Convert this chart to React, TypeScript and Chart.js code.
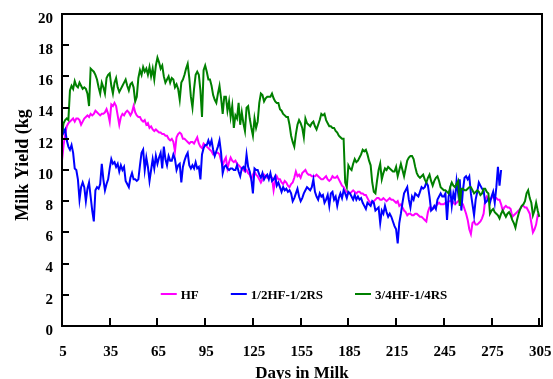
import React, { useEffect, useRef } from "react";
import { Chart, registerables } from "chart.js";

Chart.register(...registerables);

// Day-by-day average milk yield (kg) from day 5 of lactation onward.
const FIRST_DAY = 5;
const X_TICKS = [5, 35, 65, 95, 125, 155, 185, 215, 245, 275, 305];
const Y_TICKS = [0, 2, 4, 6, 8, 10, 12, 14, 16, 18, 20];
const SERIES_LABELS = ["HF", "1/2HF-1/2RS", "3/4HF-1/4RS"];
const SERIES_COLORS = ["#FF00FF", "#0000FF", "#008000"];
const X_TITLE = "Days in Milk";
const Y_TITLE = "Milk Yield (kg";

const hfYield = [
  10.6, 11.6, 12.3, 12.8, 13.0, 13.1, 13.2, 13.3, 13.1, 13.3,
  13.3, 13.2, 12.9, 13.1, 13.3, 13.4, 13.5, 13.4, 13.6, 13.5,
  13.6, 13.8, 13.7, 13.6, 13.5, 13.6, 13.6, 13.7, 13.9, 13.6,
  13.1, 14.2, 14.1, 14.3, 14.1, 13.5, 12.9, 13.4, 13.6, 13.5,
  13.7, 13.8, 13.7, 13.5, 13.7, 14.1, 13.7, 13.5, 13.4, 13.4,
  13.2, 13.1, 13.2, 12.9, 13.0, 12.7, 12.8, 12.6, 12.5, 12.6,
  12.5, 12.4, 12.4, 12.3, 12.3, 12.2, 12.2, 12.0, 11.9, 12.0,
  11.8, 11.2, 12.1, 12.3, 12.4, 12.3, 12.0, 12.0, 11.9, 11.8,
  11.7, 11.8, 11.8, 11.7, 11.9, 12.1, 11.7, 11.5, 11.4, 11.7,
  11.6, 11.5, 11.4, 11.3, 11.2, 11.0, 11.0, 11.1, 11.1, 11.0,
  10.6, 10.3, 10.6, 10.8, 10.1, 10.5, 10.8, 10.6, 10.5, 10.6,
  10.4, 10.3, 10.2, 10.1, 10.0, 9.9, 10.0, 9.8, 9.7, 9.4,
  9.7, 9.9, 9.7, 9.6, 9.4, 9.2, 9.4, 9.7, 9.6, 9.5,
  9.5, 9.6, 9.5, 8.7, 9.3, 9.6, 9.4, 9.4, 9.2, 9.1,
  9.3, 9.2, 9.0, 8.9, 9.1, 9.2, 9.5, 9.9, 9.6, 9.7,
  9.5, 9.8, 9.9, 10.0, 9.8, 9.7, 9.7, 9.6, 9.6, 9.6,
  9.7, 9.6, 9.5, 9.4, 9.4, 9.5, 9.6, 9.4, 9.3, 9.4,
  9.6, 9.5, 9.5, 9.6, 9.4, 9.2, 9.0, 8.9, 8.7, 8.6,
  8.5, 8.5, 8.6, 8.7, 8.6, 8.5, 8.6, 8.6, 8.5, 8.5,
  8.4, 8.4, 8.2, 8.0, 7.9, 7.9, 8.0, 8.1, 8.2, 8.2,
  8.1, 8.1, 8.2, 8.1, 8.0, 8.1, 8.2, 8.1, 8.1, 8.0,
  7.9, 8.0, 7.7, 7.8, 7.6, 7.4, 7.3, 7.1, 7.2, 7.2,
  7.1, 7.1, 7.2, 7.2, 7.1, 7.0, 7.0, 6.9, 6.8, 6.7,
  7.3, 7.6, 7.6, 7.5, 7.6, 7.7, 7.8, 7.9, 7.8, 7.8,
  7.8, 7.9, 7.9, 8.0, 8.0, 8.1, 7.9, 7.8, 7.9, 8.0,
  8.1, 7.9, 7.8, 7.5, 7.2, 6.8, 6.2, 5.9, 6.6, 6.7,
  6.5, 6.5, 6.6, 6.7, 6.9, 7.2, 8.1, 8.3, 8.2, 8.1,
  8.2, 8.3, 8.2, 8.2, 8.1, 8.1, 7.8, 7.4, 7.6, 7.7,
  7.6, 7.6, 7.5, 7.0, 7.1, 7.2, 7.3, 7.4, 7.5, 7.7,
  7.7, 7.6, 7.6, 7.4, 7.2, 6.6, 6.0, 6.2, 6.5, 7.1,
  7.0,
];

const halfRsYield = [
  13.2, 12.4, 12.6, 11.9, 11.5, 11.3, 11.6, 11.1, 10.1, 10.0,
  9.4, 8.1, 8.9, 9.2, 8.9, 8.0, 8.8, 9.2, 8.3, 7.4,
  6.7, 8.7, 8.9, 8.8, 9.1, 10.4, 9.4, 8.7, 9.1, 9.4,
  10.1, 10.7, 10.4, 10.5, 10.2, 10.4, 9.9, 10.3, 10.0, 10.2,
  9.3, 9.1, 8.9, 9.5, 9.8, 9.4, 9.4, 9.3, 9.4, 10.3,
  11.1, 11.3, 10.0, 10.8, 10.2, 9.3, 10.0, 10.7, 10.1, 10.9,
  10.4, 10.8, 11.1, 10.1, 11.5, 10.7, 10.3, 10.9, 10.6, 10.6,
  11.0, 10.7, 10.0, 10.3, 10.4, 9.2, 10.2, 10.6, 10.9, 11.1,
  10.3, 10.1, 10.3, 10.1, 10.5, 10.1, 10.2, 9.4, 11.0, 11.4,
  11.6, 11.6, 11.9, 11.6, 11.9, 11.3, 10.9, 11.2, 11.5, 11.9,
  11.1, 9.8, 10.2, 10.3, 10.1, 10.0, 10.1, 10.1, 10.0, 10.0,
  10.3, 9.9, 9.6, 10.1, 10.2, 10.0, 11.0, 10.2, 9.9, 9.4,
  8.5, 10.1, 10.0, 10.0, 9.7, 9.5, 9.8, 9.4, 9.6, 9.7,
  9.4, 9.8, 9.3, 9.4, 9.6, 9.0, 9.2, 8.9, 8.6, 8.9,
  8.7, 8.8, 8.6, 8.7, 8.5, 8.0, 8.2, 8.5, 8.8, 8.3,
  8.0, 8.2, 8.5, 8.7, 8.9, 8.8, 8.7, 8.9, 9.4, 8.6,
  8.3, 8.1, 8.5, 8.3, 8.4, 7.9, 8.1, 8.4, 7.7, 8.5,
  8.6, 8.1, 8.3, 7.7, 8.2, 8.5, 8.2, 8.7, 8.5, 8.2,
  8.6, 8.5, 8.3, 8.1, 8.4, 8.1, 8.3, 8.1, 8.2, 7.9,
  7.7, 7.5, 7.9, 7.8, 7.7, 8.0, 7.9, 7.4, 7.5, 7.6,
  6.6, 7.4, 7.2, 7.7, 7.3, 7.0, 7.2, 7.0, 6.7, 6.4,
  6.2, 5.3, 6.6, 7.2, 7.9, 8.5, 8.7, 8.9, 8.1, 7.6,
  8.3, 8.1, 8.5, 8.4, 8.3, 8.6, 8.9, 8.8, 8.9, 9.2,
  9.0, 8.3, 7.4, 7.5, 7.7, 7.5, 8.1, 8.3, 8.5, 8.3,
  8.3, 8.5, 6.8, 8.3, 8.8, 7.7, 8.5, 8.1, 9.3, 8.5,
  9.4, 7.4, 8.7, 9.5, 9.6, 9.4, 9.6, 8.5, 7.8, 7.1,
  8.1, 8.6, 9.2, 9.0, 8.8, 8.7, 7.9, 8.0, 8.2, 7.9,
  8.3, 8.6, 7.9, 8.9, 10.2, 9.0, 10.0,
];

const quarterRsYield = [
  12.3, 13.0, 13.2, 13.3, 13.2, 15.1, 15.4, 15.2, 15.7, 15.4,
  15.3, 15.6, 15.4, 15.2, 15.3, 15.2, 14.9, 14.1, 16.5, 16.4,
  16.3, 16.1, 15.8, 15.3, 14.9, 15.6, 15.3, 14.9, 15.9, 16.1,
  16.2, 15.4, 14.9, 15.6, 15.9, 15.3, 15.0, 15.2, 15.4, 15.6,
  15.8, 15.4, 15.1, 15.5, 15.6, 15.3, 14.4, 14.7, 15.9, 16.4,
  16.1, 16.6, 16.3, 16.5, 16.1, 16.6, 16.0, 16.5, 15.8, 16.7,
  17.2, 16.9, 16.5, 16.7, 16.0, 15.6, 15.8, 16.0, 15.6, 15.9,
  15.8, 15.3, 15.5, 15.2, 14.5, 15.6, 15.8, 16.1, 16.5, 16.8,
  15.9, 14.7, 14.0, 15.2, 16.1, 16.3, 16.1, 15.1, 13.4, 16.4,
  16.7, 16.3, 15.8, 15.8, 15.4, 14.8, 14.5, 14.3, 14.9, 15.4,
  14.6, 13.6, 14.7, 14.7, 13.8, 14.4, 13.4, 14.1, 12.7, 13.5,
  13.3, 14.3, 12.9, 13.7, 13.0, 12.5, 14.0, 14.1, 13.3, 12.7,
  12.2, 13.3, 12.7, 13.1, 14.3, 14.9, 14.8, 14.4, 14.6, 14.7,
  14.7, 14.7, 14.9, 14.6, 14.4, 14.3, 14.3, 13.9, 13.8, 13.6,
  13.5, 13.4, 13.4, 12.9, 12.2, 11.8, 11.5, 12.3, 12.9, 13.2,
  13.0, 12.7, 12.1, 13.3, 13.0, 12.9, 12.8, 13.0, 13.1, 12.8,
  12.6, 12.9, 13.2, 13.6, 13.5, 13.6, 13.2, 13.0, 12.8, 12.8,
  12.7, 12.7, 12.5, 12.4, 12.2, 12.1, 12.0, 12.0, 9.2, 8.9,
  10.3, 10.1, 10.0, 10.4, 10.7, 10.5, 10.6, 10.8, 11.0, 11.3,
  11.2, 11.3, 11.0, 10.6, 10.3, 9.2, 8.6, 8.5, 9.3, 10.0,
  10.4, 9.4, 9.8, 10.1, 10.0, 10.2, 10.1, 10.0, 9.9, 9.9,
  10.2, 9.6, 10.0, 10.4, 10.0, 9.6, 10.1, 10.6, 10.8, 10.9,
  10.9, 10.7, 10.2, 9.8, 9.6, 9.5, 9.6, 9.7, 9.4, 9.2,
  9.5, 9.7, 9.3, 9.0, 9.3, 9.5, 9.6, 9.3, 8.9, 8.8,
  8.7, 8.7, 8.6, 8.5, 8.9, 9.2, 9.0, 8.9, 9.1, 9.3,
  7.7, 8.8, 8.8, 8.7, 8.7, 8.8, 8.9, 8.9, 8.7, 8.5,
  8.6, 8.7, 8.6, 8.4, 8.5, 8.8, 8.8, 8.6, 8.5, 7.2,
  7.4, 7.5, 7.3, 7.2, 7.1, 6.9, 7.2, 7.4, 7.2, 7.0,
  7.2, 7.3, 7.1, 6.8, 6.6, 6.3, 6.8, 7.2, 7.5, 7.7,
  7.8, 8.0, 8.5, 8.7, 8.2, 7.9, 7.1, 7.4, 7.9, 7.4,
  7.0,
];

const SERIES_VALUES = [hfYield, halfRsYield, quarterRsYield];

const SERIF = "'Liberation Serif', 'Times New Roman', Times, serif";

function toPoints(values: number[]) {
  return values.map((y, i) => ({ x: FIRST_DAY + i, y }));
}

// Draws the boxed frame, inward tick marks, the in-plot legend and axis titles.
const framePlugin = {
  id: "frameAndLegend",
  afterDatasetsDraw(chart: any) {
    const { ctx, chartArea: a, scales } = chart;
    ctx.save();

    ctx.strokeStyle = "#000";
    ctx.lineWidth = 2;
    ctx.strokeRect(a.left, a.top, a.right - a.left, a.bottom - a.top);

    ctx.beginPath();
    for (const t of X_TICKS) {
      const px = Math.round(scales.x.getPixelForValue(t));
      ctx.moveTo(px, a.bottom);
      ctx.lineTo(px, a.bottom - 8);
    }
    for (const t of Y_TICKS) {
      const py = Math.round(scales.y.getPixelForValue(t));
      ctx.moveTo(a.left, py);
      ctx.lineTo(a.left + 7, py);
    }
    ctx.stroke();

    // legend
    ctx.font = `bold 13px ${SERIF}`;
    const lineLen = 16;
    const lineGap = 4;
    const itemGap = 32;
    const widths = SERIES_LABELS.map((l) => ctx.measureText(l).width);
    const total =
      widths.reduce((s, w) => s + w + lineLen + lineGap, 0) +
      itemGap * (SERIES_LABELS.length - 1);
    let x = 304 - total / 2;
    const ly = 294;
    SERIES_LABELS.forEach((label, i) => {
      ctx.strokeStyle = SERIES_COLORS[i];
      ctx.lineWidth = 2;
      ctx.beginPath();
      ctx.moveTo(x, ly);
      ctx.lineTo(x + lineLen, ly);
      ctx.stroke();
      ctx.fillStyle = "#000";
      ctx.textAlign = "left";
      ctx.textBaseline = "alphabetic";
      ctx.fillText(label, x + lineLen + lineGap, ly + 4.5);
      x += lineLen + lineGap + widths[i] + itemGap;
    });

    // axis titles
    ctx.fillStyle = "#000";
    ctx.font = `bold 17px ${SERIF}`;
    ctx.textAlign = "center";
    ctx.textBaseline = "alphabetic";
    ctx.fillText(X_TITLE, (a.left + a.right) / 2, 378);

    ctx.save();
    ctx.translate(28, 165);
    ctx.rotate(-Math.PI / 2);
    ctx.font = `bold 18px ${SERIF}`;
    ctx.fillText(Y_TITLE, 0, 0);
    ctx.restore();

    ctx.restore();
  },
};

export default function App() {
  const canvasRef = useRef<HTMLCanvasElement | null>(null);

  useEffect(() => {
    const canvas = canvasRef.current;
    if (!canvas) return;

    const datasets = SERIES_VALUES.map((values, i) => ({
      label: SERIES_LABELS[i],
      data: toPoints(values),
      borderColor: SERIES_COLORS[i],
      backgroundColor: SERIES_COLORS[i],
      borderWidth: 2,
      pointRadius: 0,
      tension: 0,
      fill: false,
      order: SERIES_LABELS.length - 1 - i,
    }));

    const chart = new Chart(canvas, {
      type: "line",
      data: { datasets },
      options: {
        responsive: false,
        animation: false,
        devicePixelRatio: 1,
        layout: {
          autoPadding: false,
          padding: { left: 0, right: 11, top: 14, bottom: 0 },
        },
        plugins: {
          legend: { display: false },
          tooltip: { enabled: false },
          title: { display: false },
        },
        scales: {
          x: {
            type: "linear",
            min: 5,
            max: 306.7,
            grid: { display: false, drawTicks: false },
            border: { display: false },
            afterFit: (scale: any) => {
              scale.height = 53;
              scale.paddingLeft = 0;
              scale.paddingRight = 0;
              scale.paddingTop = 0;
              scale.paddingBottom = 0;
            },
            afterBuildTicks: (scale: any) => {
              scale.ticks = X_TICKS.map((v) => ({ value: v }));
            },
            ticks: {
              color: "#000",
              padding: 17,
              labelOffset: 1,
              maxRotation: 0,
              autoSkip: false,
              font: { family: SERIF, size: 15, weight: "bold" },
              callback: (v: any) => String(v),
            },
          },
          y: {
            type: "linear",
            min: 0,
            max: 20,
            grid: { display: false, drawTicks: false },
            border: { display: false },
            afterFit: (scale: any) => {
              scale.width = 62;
              scale.paddingLeft = 0;
              scale.paddingRight = 0;
              scale.paddingTop = 0;
              scale.paddingBottom = 0;
            },
            afterBuildTicks: (scale: any) => {
              scale.ticks = Y_TICKS.map((v) => ({ value: v }));
            },
            ticks: {
              color: "#000",
              padding: 9,
              labelOffset: 5,
              autoSkip: false,
              font: { family: SERIF, size: 15, weight: "bold" },
              callback: (v: any) => String(v),
            },
          },
        },
      },
      plugins: [framePlugin],
    });

    return () => chart.destroy();
  }, []);

  return (
    <div
      style={{
        position: "absolute",
        left: 0,
        top: 0,
        width: 553,
        height: 379,
        background: "#fff",
      }}
    >
      <canvas
        ref={canvasRef}
        width={553}
        height={379}
        style={{ display: "block", width: 553, height: 379 }}
      />
    </div>
  );
}
